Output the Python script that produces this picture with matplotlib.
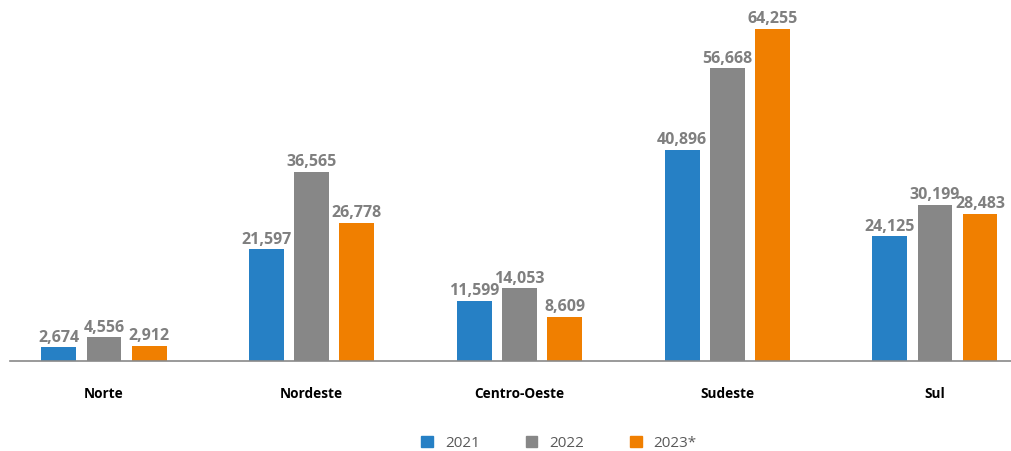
import numpy as np
import matplotlib.pyplot as plt
from matplotlib.patches import Patch

regioes = ["Norte", "Nordeste", "Centro-Oeste", "Sudeste", "Sul"]
anos = ["2021", "2022", "2023*"]
v2021 = [2674, 21597, 11599, 40896, 24125]
v2022 = [4556, 36565, 14053, 56668, 30199]
v2023 = [2912, 26778, 8609, 64255, 28483]
cores = ["#2680c5", "#878787", "#f07f00"]

plt.rcParams['font.family'] = ['Open Sans', 'DejaVu Sans']

fig = plt.figure(figsize=(10.11, 4.52), dpi=100)
ax = fig.add_axes([10 / 1011, 1 - 362 / 452, 1001 / 1011, 362 / 452])

x = np.arange(len(regioes))
largura = 0.168
passo = 0.217
for i, (serie, cor) in enumerate(zip([v2021, v2022, v2023], cores)):
    pos = x + (i - 1) * passo
    ax.bar(pos, serie, width=largura, color=cor, label=anos[i])
    for p, v in zip(pos, serie):
        ax.text(p, v + 500, f"{v:,}", ha="center", va="bottom",
                fontsize=11.5, fontweight="bold", color="#7f7f7f")

ax.set_xlim(-0.4525, 4.366)
ax.set_ylim(0, 70060)
for s in ["top", "right", "left"]:
    ax.spines[s].set_visible(False)
ax.spines["bottom"].set_color("#898989")
ax.spines["bottom"].set_linewidth(1.2)
ax.set_yticks([])
ax.set_xticks(x)
ax.set_xticklabels(regioes, fontsize=9.8, fontweight="bold", color="#000000")
ax.tick_params(axis="x", length=0, pad=18)

handles = [Patch(color=c, label=a) for c, a in zip(cores, anos)]
fig.legend(handles=handles, loc="center", bbox_to_anchor=(0.553, 1 - 444 / 452),
           ncol=3, frameon=False, fontsize=11, handlelength=0.75, handleheight=0.75,
           columnspacing=3.0, labelcolor="#595959")

fig.savefig("out.png", dpi=100)
